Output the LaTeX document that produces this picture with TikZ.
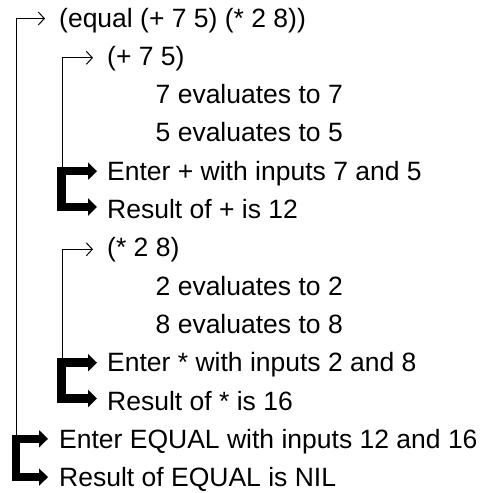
\documentclass[tikz,border=0pt]{standalone}
\usepackage{fontspec}
\setmainfont{Liberation Sans}
\usetikzlibrary{arrows.meta,calc}
\begin{document}
\begin{tikzpicture}[x=1pt,y=-1pt,
  txt/.style={anchor=base west,inner sep=0pt,font=\fontsize{26.5}{30}\selectfont},
  thinarrow/.style={line width=1pt,-{Straight Barb[length=6pt,width=13pt]}},
  bracket/.style={line width=8.5pt,line join=miter,{Triangle[length=9pt,width=17pt]}-{Triangle[length=9pt,width=17pt]}}]
\useasboundingbox (0,0) rectangle (484,493);
\node[txt] (t1)  at (59,27)    {(equal (+ 7 5) (* 2 8))};
\node[txt] (t2)  at (107,65.3) {(+ 7 5)};
\node[txt] (t3)  at (155.5,103.6) {7 evaluates to 7};
\node[txt] (t4)  at (155.5,141.9) {5 evaluates to 5};
\node[txt] (t5)  at (107,180.2) {Enter + with inputs 7 and 5};
\node[txt] (t6)  at (107,218.5) {Result of + is 12};
\node[txt] (t7)  at (107,256.8) {(* 2 8)};
\node[txt] (t8)  at (155.5,295.1) {2 evaluates to 2};
\node[txt] (t9)  at (155.5,333.4) {8 evaluates to 8};
\node[txt] (t10) at (107,371.7) {Enter * with inputs 2 and 8};
\node[txt] (t11) at (107,410)   {Result of * is 16};
\node[txt] (t12) at (59,448.3)  {Enter EQUAL with inputs 12 and 16};
\node[txt] (t13) at (59,486.6)  {Result of EQUAL is NIL};
% thin call arrows
\coordinate (v1) at (16,438);
\coordinate (v2) at (62.5,168);
\coordinate (v3) at (62.5,364);
\draw[thinarrow] (v1) |- ([xshift=-14pt,yshift=8.5pt]t1.base west);
\draw[thinarrow] (v2) |- ([xshift=-14pt,yshift=7.5pt]t2.base west);
\draw[thinarrow] (v3) |- ([xshift=-14pt,yshift=7.5pt]t7.base west);
% thick brackets
\coordinate (k1) at (61.5,0);
\coordinate (k2) at (16,0);
\coordinate (a1) at ([xshift=-10pt,yshift=9pt]t5.base west);
\coordinate (b1) at ([xshift=-10pt,yshift=11.5pt]t6.base west);
\coordinate (a2) at ([xshift=-10pt,yshift=9pt]t10.base west);
\coordinate (b2) at ([xshift=-10pt,yshift=11.5pt]t11.base west);
\coordinate (a3) at ([xshift=-11pt,yshift=9.5pt]t12.base west);
\coordinate (b3) at ([xshift=-11pt,yshift=9.5pt]t13.base west);
\draw[bracket] (a1) -- (a1 -| k1) -- (b1 -| k1) -- (b1);
\draw[bracket] (a2) -- (a2 -| k1) -- (b2 -| k1) -- (b2);
\draw[bracket] (a3) -- (a3 -| k2) -- (b3 -| k2) -- (b3);
\end{tikzpicture}
\end{document}
